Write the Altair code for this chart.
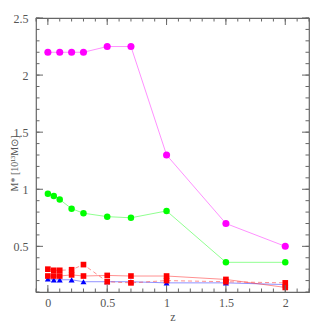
import altair as alt
import pandas as pd

# ---- data ----
z_mag = [0, 0.1, 0.2, 0.3, 0.5, 0.7, 1.0, 1.5, 2.0]
m_mag = [2.2, 2.2, 2.2, 2.2, 2.25, 2.25, 1.3, 0.7, 0.5]

z_grn = [0, 0.05, 0.1, 0.2, 0.3, 0.5, 0.7, 1.0, 1.5, 2.0]
m_grn = [0.96, 0.94, 0.91, 0.83, 0.79, 0.76, 0.75, 0.81, 0.36, 0.36]

z_red = [0, 0.05, 0.1, 0.2, 0.3, 0.5, 0.7, 1.0, 1.5, 2.0]
m_red_dash = [0.30, 0.29, 0.29, 0.295, 0.34, 0.19, 0.18, 0.20, 0.19, 0.18]
m_red_solid = [0.24, 0.24, 0.24, 0.25, 0.24, 0.245, 0.24, 0.24, 0.21, 0.14]

z_blu = [0, 0.05, 0.1, 0.2, 0.3, 0.5, 0.7, 1.0, 1.5, 2.0]
m_blu = [0.215, 0.207, 0.207, 0.207, 0.19, 0.19, 0.19, 0.18, 0.18, 0.165]

x_major = [0, 0.5, 1.0, 1.5, 2.0]
x_minor = [round(-0.1 + 0.1 * i, 2) for i in range(24)]
y_major = [0.5, 1.0, 1.5, 2.0, 2.5]
y_minor = [round(0.1 + 0.1 * i, 2) for i in range(25)]

W, H = 273, 274
FONT = "Liberation Serif"
GREY = "#555555"
TC = "#666666"
YTITLE = "M* [10¹³M⊙]"

xs = alt.Scale(domain=[-0.1, 2.2], nice=False, zero=False)
ys = alt.Scale(domain=[0.1, 2.5], nice=False, zero=False)

xax = alt.Axis(values=x_major, ticks=False, domain=False, grid=False,
               labelPadding=5, title="z", titlePadding=3,
               labelExpr="format(datum.value, '.2~f')")
yax = alt.Axis(values=y_major, ticks=False, domain=False, grid=False,
               labelPadding=8, title=YTITLE, titleFontSize=10,
               titleAngle=-90, titleX=-22, titleY=H / 2 + 8, titleAlign="center",
               titleBaseline="middle",
               labelExpr="format(datum.value, '.2~f')")


def X(f):
    return alt.X(f"{f}:Q", scale=xs, axis=xax, title="z")


def Y(f):
    return alt.Y(f"{f}:Q", scale=ys, axis=yax, title=YTITLE)


def series(z, m, color, shape, size, dash=None):
    df = pd.DataFrame({"z": z, "m": m})
    base = alt.Chart(df)
    line_kw = dict(color=color, strokeWidth=0.8, opacity=0.55)
    if dash:
        line_kw["strokeDash"] = dash
    line = base.mark_line(**line_kw).encode(x=X("z"), y=Y("m"))
    pts = base.mark_point(shape=shape, filled=True, size=size, color=color,
                          opacity=1).encode(x=X("z"), y=Y("m"))
    return [line, pts]


layers = []
layers += series(z_blu, m_blu, "#0000ff", "triangle-up", 36)
layers += series(z_red, m_red_dash, "#ff0000", "square", 32, dash=[4, 3])
layers += series(z_red, m_red_solid, "#ff0000", "square", 32)
layers += series(z_grn, m_grn, "#00ff00", "circle", 42)
layers += series(z_mag, m_mag, "#ff00ff", "circle", 50)


# ---- inward ticks on all four sides ----
def xticks(vals, length, bottom):
    df = pd.DataFrame({"z": vals})
    y1, y2 = (H, H - length) if bottom else (0, length)
    return alt.Chart(df).mark_rule(color=TC, strokeWidth=1).encode(
        x=X("z"), y=alt.value(y1), y2=alt.value(y2))


def yticks(vals, length, left):
    df = pd.DataFrame({"m": vals})
    x1, x2 = (0, length) if left else (W, W - length)
    return alt.Chart(df).mark_rule(color=TC, strokeWidth=1).encode(
        y=Y("m"), x=alt.value(x1), x2=alt.value(x2))


for b in (True, False):
    layers.append(xticks(x_minor, 3.5, b))
    layers.append(xticks(x_major, 7, b))
    layers.append(yticks(y_minor, 3.5, b))
    layers.append(yticks(y_major, 7, b))

chart = alt.layer(*layers).properties(
    width=W, height=H,
    autosize=alt.AutoSizeParams(type="none"),
    padding={"left": 28, "top": 10, "right": 10, "bottom": 32},
    background="white",
).configure_view(stroke=TC, strokeWidth=1.2).configure_axis(
    labelFont=FONT, labelFontSize=12, labelColor=GREY,
    titleFont=FONT, titleFontSize=12, titleColor=GREY, titleFontWeight="normal",
)

chart.save("out.html", embed_options={"renderer": "svg", "actions": False})
